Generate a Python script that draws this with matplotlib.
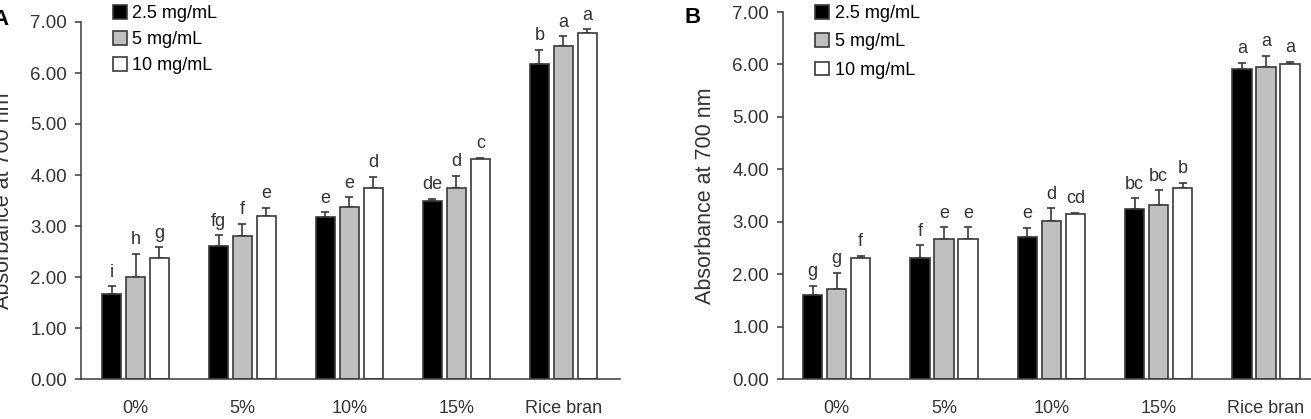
import numpy as np
import matplotlib
matplotlib.use("Agg")
import matplotlib.pyplot as plt

plt.rcParams['font.family'] = ['Liberation Sans', 'DejaVu Sans']

# 数据
groups = ['0%', '5%', '10%', '15%', 'Rice bran']
doses = ['2.5 mg/mL', '5 mg/mL', '10 mg/mL']

# 图 A
a_low = [1.67, 2.61, 3.18, 3.49, 6.17]
a_mid = [2.00, 2.80, 3.37, 3.75, 6.53]
a_high = [2.37, 3.20, 3.74, 4.31, 6.78]
a_low_sd = [0.15, 0.21, 0.09, 0.04, 0.29]
a_mid_sd = [0.45, 0.24, 0.19, 0.23, 0.19]
a_high_sd = [0.21, 0.16, 0.22, 0.03, 0.08]
a_low_lab = ['i', 'fg', 'e', 'de', 'b']
a_mid_lab = ['h', 'f', 'e', 'd', 'a']
a_high_lab = ['g', 'e', 'd', 'c', 'a']

# 图 B
b_low = [1.60, 2.31, 2.70, 3.24, 5.92]
b_mid = [1.72, 2.67, 3.01, 3.32, 5.95]
b_high = [2.31, 2.67, 3.14, 3.64, 6.01]
b_low_sd = [0.18, 0.24, 0.18, 0.21, 0.11]
b_mid_sd = [0.31, 0.22, 0.25, 0.28, 0.21]
b_high_sd = [0.04, 0.22, 0.03, 0.10, 0.04]
b_low_lab = ['g', 'f', 'e', 'bc', 'a']
b_mid_lab = ['g', 'e', 'd', 'bc', 'a']
b_high_lab = ['f', 'e', 'cd', 'b', 'a']

colors = ['black', '#c0c0c0', 'white']
EDGE = '#3a3a3a'
TXT = '#333333'


def draw_panel(ax, means, sds, labels, xlim, leg_anchor, leg_spacing):
    x = np.arange(len(groups))
    offsets = [-0.224, 0, 0.224]
    handles = []
    for m, s, lab, off, c, name in zip(means, sds, labels, offsets, colors, doses):
        m = np.array(m)
        s = np.array(s)
        bars = ax.bar(x + off, m, width=0.18, color=c, edgecolor=EDGE,
                      linewidth=1.2, label=name, zorder=2)
        ax.errorbar(x + off, m, yerr=[np.zeros_like(s), s], fmt='none',
                    ecolor=EDGE, elinewidth=1.2, capsize=3, capthick=1.2, zorder=1)
        handles.append(bars)
        # 显著性字母
        for xi, top, t in zip(x + off, m + s, lab):
            ax.annotate(t, (xi, top), xytext=(0, 4), textcoords='offset points',
                        ha='center', va='bottom', fontsize=13, color=TXT)

    ax.set_xlim(*xlim)
    ax.set_ylim(0, 7)
    ax.set_yticks(np.arange(0, 7.01, 1))
    ax.set_yticklabels([f'{v:.2f}' for v in np.arange(0, 7.01, 1)])
    ax.set_xticks(x)
    ax.set_xticklabels(groups)
    ax.tick_params(axis='x', length=0, pad=15, labelsize=13, labelcolor=TXT)
    ax.tick_params(axis='y', direction='out', length=4, width=1.1, color=EDGE,
                   pad=6, labelsize=13.5, labelcolor=TXT)
    for side in ['top', 'right']:
        ax.spines[side].set_visible(False)
    for side in ['left', 'bottom']:
        ax.spines[side].set_color(EDGE)
        ax.spines[side].set_linewidth(1.1)
    ax.set_ylabel('Absorbance at 700 nm', fontsize=15.5, color=TXT, labelpad=12)

    ax.legend(handles=handles, loc='upper left', bbox_to_anchor=leg_anchor,
              frameon=False, fontsize=13, handlelength=0.78, handleheight=0.78,
              handletextpad=0.3, borderpad=0, borderaxespad=0,
              labelspacing=leg_spacing)


fig = plt.figure(figsize=(13.11, 4.19), dpi=100)
ax_a = fig.add_axes([81 / 1311, 40 / 419, 539 / 1311, 357 / 419])
ax_b = fig.add_axes([783 / 1311, 40 / 419, 528 / 1311, 367 / 419])
ax_a.patch.set_alpha(0)
ax_b.patch.set_alpha(0)

draw_panel(ax_a, [a_low, a_mid, a_high], [a_low_sd, a_mid_sd, a_high_sd],
           [a_low_lab, a_mid_lab, a_high_lab], (-0.51, 4.53), (0.059, 1.047), 0.5)
draw_panel(ax_b, [b_low, b_mid, b_high], [b_low_sd, b_mid_sd, b_high_sd],
           [b_low_lab, b_mid_lab, b_high_lab], (-0.5, 4.42), (0.061, 1.019), 0.62)

fig.text(-8 / 1311, 1 - 25 / 419, 'A', fontsize=16, fontweight='bold', color='black')
fig.text(685 / 1311, 1 - 23 / 419, 'B', fontsize=16, fontweight='bold', color='black')

fig.savefig('out.png', dpi=100)
